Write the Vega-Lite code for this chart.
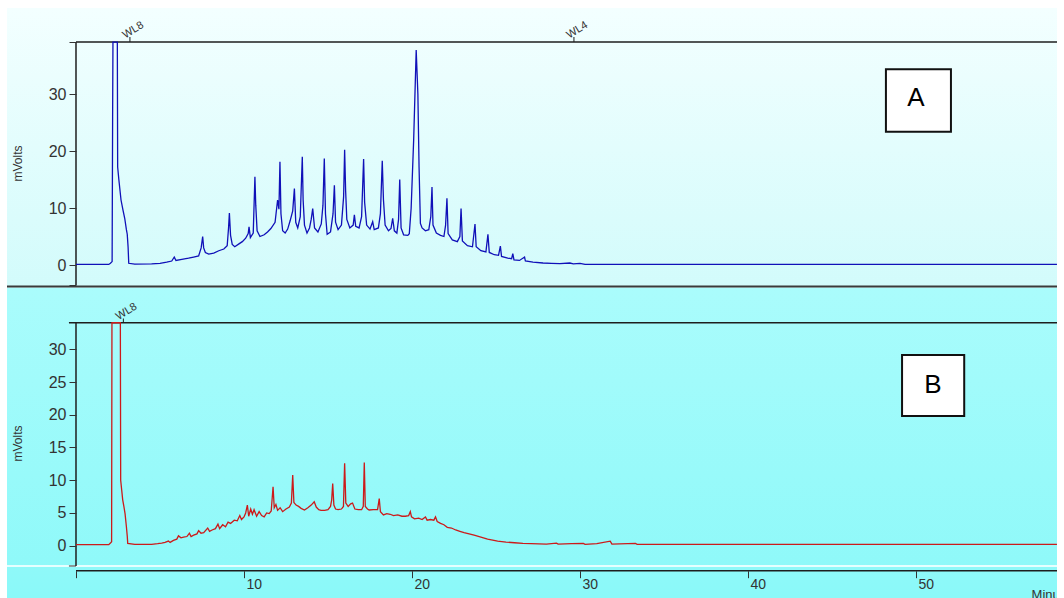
{
  "$schema": "https://vega.github.io/schema/vega-lite/v6.json",
  "background": "#ffffff",
  "padding": {"left": 6, "top": 8, "right": 8, "bottom": 0},
  "spacing": 0,
  "bounds": "flush",
  "config": {
    "view": {"stroke": null},
    "axis": {"grid": false, "domain": false, "zindex": 1, "labelFont": "Liberation Sans", "titleFont": "Liberation Sans", "labelColor": "#333333", "titleColor": "#333333", "tickColor": "#333333", "labelFontSize": 15, "titleFontSize": 12, "titleFontWeight": "normal", "labelOverlap": false, "labelBound": false, "labelFlush": false}
  },
  "datasets": {
    "A": [
      {"t":0,"v":0.1},{"t":1.95,"v":0.1},{"t":2.05,"v":0.3},{"t":2.15,"v":0.6},{"t":2.18,"v":26},{"t":2.2,"v":39.1},{"t":2.46,"v":39.1},{"t":2.48,"v":17.2},{"t":2.55,"v":15},{"t":2.68,"v":11.4},{"t":2.8,"v":9.6},{"t":2.9,"v":8.2},{"t":3.0,"v":6.2},{"t":3.05,"v":5.4},{"t":3.1,"v":3.2},{"t":3.14,"v":0.3},{"t":3.5,"v":0.15},{"t":4.5,"v":0.2},{"t":5.0,"v":0.3},{"t":5.4,"v":0.5},{"t":5.7,"v":0.7},{"t":5.85,"v":1.4},{"t":5.95,"v":0.8},{"t":6.3,"v":1.0},{"t":6.7,"v":1.2},{"t":7.0,"v":1.4},{"t":7.3,"v":1.6},{"t":7.45,"v":3.0},{"t":7.54,"v":5.0},{"t":7.6,"v":3.0},{"t":7.7,"v":2.2},{"t":7.9,"v":1.9},{"t":8.2,"v":2.1},{"t":8.5,"v":2.5},{"t":8.8,"v":2.8},{"t":9.0,"v":3.4},{"t":9.08,"v":6.5},{"t":9.13,"v":9.1},{"t":9.2,"v":5.2},{"t":9.3,"v":3.6},{"t":9.45,"v":3.2},{"t":9.7,"v":3.7},{"t":9.9,"v":4.1},{"t":10.1,"v":4.7},{"t":10.25,"v":5.5},{"t":10.3,"v":6.7},{"t":10.38,"v":4.8},{"t":10.55,"v":5.6},{"t":10.65,"v":15.5},{"t":10.7,"v":10.5},{"t":10.78,"v":6.0},{"t":10.95,"v":5.0},{"t":11.2,"v":5.3},{"t":11.4,"v":5.8},{"t":11.6,"v":6.4},{"t":11.85,"v":7.5},{"t":12.0,"v":11.4},{"t":12.08,"v":9.8},{"t":12.14,"v":18.1},{"t":12.2,"v":9.0},{"t":12.3,"v":6.0},{"t":12.45,"v":5.6},{"t":12.6,"v":6.3},{"t":12.75,"v":7.8},{"t":12.9,"v":9.5},{"t":13.0,"v":13.4},{"t":13.08,"v":7.5},{"t":13.2,"v":6.5},{"t":13.35,"v":8.5},{"t":13.47,"v":19.0},{"t":13.52,"v":11.4},{"t":13.6,"v":7.0},{"t":13.75,"v":5.6},{"t":13.9,"v":6.5},{"t":14.0,"v":8.0},{"t":14.09,"v":9.9},{"t":14.2,"v":6.5},{"t":14.4,"v":5.8},{"t":14.6,"v":7.2},{"t":14.7,"v":10.5},{"t":14.78,"v":18.7},{"t":14.85,"v":9.0},{"t":14.95,"v":5.4},{"t":15.15,"v":5.8},{"t":15.3,"v":9.0},{"t":15.38,"v":14.0},{"t":15.45,"v":7.5},{"t":15.6,"v":6.2},{"t":15.8,"v":7.0},{"t":15.93,"v":12.0},{"t":15.99,"v":20.2},{"t":16.05,"v":13.0},{"t":16.12,"v":8.0},{"t":16.3,"v":6.5},{"t":16.5,"v":7.0},{"t":16.57,"v":8.8},{"t":16.65,"v":6.8},{"t":16.85,"v":6.5},{"t":17.0,"v":8.5},{"t":17.12,"v":18.6},{"t":17.18,"v":11.0},{"t":17.3,"v":7.0},{"t":17.5,"v":6.3},{"t":17.66,"v":7.6},{"t":17.75,"v":6.2},{"t":18.0,"v":6.5},{"t":18.12,"v":9.0},{"t":18.23,"v":18.3},{"t":18.3,"v":11.5},{"t":18.4,"v":7.0},{"t":18.6,"v":6.0},{"t":18.75,"v":6.4},{"t":18.85,"v":8.2},{"t":18.95,"v":6.0},{"t":19.1,"v":5.6},{"t":19.2,"v":8.0},{"t":19.27,"v":15.0},{"t":19.35,"v":6.5},{"t":19.5,"v":5.3},{"t":19.75,"v":5.2},{"t":19.84,"v":5.5},{"t":19.95,"v":10.0},{"t":20.1,"v":22},{"t":20.25,"v":37.7},{"t":20.35,"v":30},{"t":20.42,"v":17.2},{"t":20.5,"v":7.3},{"t":20.6,"v":6.5},{"t":20.8,"v":6.0},{"t":21.0,"v":6.2},{"t":21.12,"v":8.5},{"t":21.19,"v":13.7},{"t":21.25,"v":7.0},{"t":21.45,"v":5.6},{"t":21.7,"v":5.2},{"t":21.9,"v":5.0},{"t":22.0,"v":7.0},{"t":22.08,"v":11.7},{"t":22.15,"v":5.5},{"t":22.4,"v":4.4},{"t":22.7,"v":4.1},{"t":22.85,"v":5.0},{"t":22.92,"v":9.9},{"t":23.0,"v":4.2},{"t":23.3,"v":3.4},{"t":23.6,"v":3.2},{"t":23.75,"v":7.2},{"t":23.82,"v":3.2},{"t":24.1,"v":2.5},{"t":24.4,"v":2.3},{"t":24.52,"v":5.4},{"t":24.6,"v":2.2},{"t":24.9,"v":1.8},{"t":25.15,"v":1.7},{"t":25.26,"v":3.3},{"t":25.33,"v":1.5},{"t":25.7,"v":1.2},{"t":25.93,"v":1.1},{"t":26.0,"v":2.0},{"t":26.07,"v":0.9},{"t":26.4,"v":0.8},{"t":26.7,"v":1.4},{"t":26.75,"v":0.7},{"t":27.2,"v":0.5},{"t":27.8,"v":0.35},{"t":28.3,"v":0.3},{"t":28.8,"v":0.25},{"t":29.4,"v":0.35},{"t":29.6,"v":0.2},{"t":30.0,"v":0.3},{"t":30.3,"v":0.1},{"t":35,"v":0.1},{"t":58.39,"v":0.1}
    ],
    "B": [
      {"t":0,"v":0.15},{"t":1.95,"v":0.15},{"t":2.05,"v":0.4},{"t":2.12,"v":0.6},{"t":2.14,"v":34.05},{"t":2.64,"v":34.05},{"t":2.66,"v":10.0},{"t":2.72,"v":8.5},{"t":2.78,"v":7.0},{"t":2.85,"v":6.0},{"t":2.92,"v":4.9},{"t":3.0,"v":2.9},{"t":3.05,"v":1.5},{"t":3.08,"v":0.35},{"t":3.5,"v":0.2},{"t":4.5,"v":0.2},{"t":4.86,"v":0.3},{"t":5.1,"v":0.4},{"t":5.3,"v":0.5},{"t":5.5,"v":0.7},{"t":5.6,"v":0.5},{"t":5.8,"v":0.8},{"t":6.0,"v":1.0},{"t":6.1,"v":1.5},{"t":6.25,"v":1.2},{"t":6.4,"v":1.3},{"t":6.6,"v":1.4},{"t":6.75,"v":1.9},{"t":6.85,"v":1.4},{"t":7.0,"v":1.6},{"t":7.2,"v":1.8},{"t":7.3,"v":2.3},{"t":7.44,"v":1.9},{"t":7.6,"v":2.0},{"t":7.84,"v":2.7},{"t":7.95,"v":2.2},{"t":8.1,"v":2.4},{"t":8.3,"v":2.6},{"t":8.45,"v":3.3},{"t":8.55,"v":2.6},{"t":8.73,"v":3.2},{"t":8.9,"v":2.9},{"t":9.05,"v":3.6},{"t":9.2,"v":3.4},{"t":9.42,"v":3.9},{"t":9.6,"v":3.8},{"t":9.75,"v":4.6},{"t":9.85,"v":4.0},{"t":10.0,"v":4.4},{"t":10.1,"v":5.0},{"t":10.2,"v":6.2},{"t":10.28,"v":4.5},{"t":10.4,"v":5.6},{"t":10.5,"v":4.8},{"t":10.6,"v":5.5},{"t":10.75,"v":4.5},{"t":10.9,"v":5.2},{"t":11.05,"v":4.6},{"t":11.2,"v":4.4},{"t":11.35,"v":5.0},{"t":11.5,"v":4.9},{"t":11.62,"v":5.3},{"t":11.73,"v":9.0},{"t":11.8,"v":5.8},{"t":11.9,"v":6.3},{"t":12.0,"v":5.4},{"t":12.15,"v":5.8},{"t":12.3,"v":5.2},{"t":12.5,"v":5.6},{"t":12.7,"v":5.9},{"t":12.82,"v":6.5},{"t":12.9,"v":10.8},{"t":12.97,"v":6.6},{"t":13.1,"v":6.2},{"t":13.25,"v":6.0},{"t":13.4,"v":5.7},{"t":13.6,"v":5.45},{"t":13.8,"v":5.8},{"t":14.0,"v":6.2},{"t":14.18,"v":6.7},{"t":14.3,"v":5.9},{"t":14.45,"v":5.5},{"t":14.58,"v":5.4},{"t":14.8,"v":5.4},{"t":15.0,"v":5.5},{"t":15.15,"v":6.0},{"t":15.22,"v":7.0},{"t":15.28,"v":9.5},{"t":15.35,"v":6.2},{"t":15.45,"v":5.6},{"t":15.6,"v":5.5},{"t":15.8,"v":5.6},{"t":15.92,"v":6.0},{"t":15.99,"v":12.6},{"t":16.06,"v":6.5},{"t":16.2,"v":6.0},{"t":16.35,"v":6.4},{"t":16.46,"v":6.5},{"t":16.6,"v":5.6},{"t":16.8,"v":5.5},{"t":17.0,"v":5.5},{"t":17.1,"v":6.0},{"t":17.16,"v":12.7},{"t":17.22,"v":6.0},{"t":17.35,"v":5.6},{"t":17.45,"v":5.45},{"t":17.7,"v":5.5},{"t":17.95,"v":5.5},{"t":18.05,"v":7.2},{"t":18.12,"v":5.2},{"t":18.3,"v":4.7},{"t":18.5,"v":4.9},{"t":18.7,"v":4.8},{"t":18.9,"v":4.6},{"t":19.15,"v":4.7},{"t":19.4,"v":4.5},{"t":19.6,"v":4.5},{"t":19.8,"v":4.6},{"t":19.9,"v":5.2},{"t":19.97,"v":4.4},{"t":20.15,"v":4.1},{"t":20.4,"v":4.2},{"t":20.6,"v":4.0},{"t":20.8,"v":4.4},{"t":20.9,"v":3.9},{"t":21.1,"v":4.0},{"t":21.3,"v":3.9},{"t":21.4,"v":4.4},{"t":21.5,"v":3.7},{"t":21.7,"v":3.4},{"t":21.9,"v":3.2},{"t":22.1,"v":2.8},{"t":22.35,"v":2.7},{"t":22.6,"v":2.4},{"t":22.85,"v":2.2},{"t":23.1,"v":2.0},{"t":23.4,"v":1.8},{"t":23.7,"v":1.6},{"t":24.1,"v":1.3},{"t":24.5,"v":1.0},{"t":25.1,"v":0.7},{"t":25.6,"v":0.55},{"t":26.1,"v":0.45},{"t":26.6,"v":0.35},{"t":27.1,"v":0.3},{"t":28.0,"v":0.25},{"t":28.6,"v":0.4},{"t":28.7,"v":0.25},{"t":29.5,"v":0.3},{"t":30.2,"v":0.35},{"t":30.3,"v":0.2},{"t":31.0,"v":0.3},{"t":31.8,"v":0.7},{"t":31.9,"v":0.25},{"t":33.3,"v":0.35},{"t":33.4,"v":0.2},{"t":58.39,"v":0.2}
    ]
  },
  "vconcat": [
    {
      "width": 1050,
      "height": 280,
      "layer": [
        {
          "data": {"values": [{"panel": "A"}]},
          "mark": {"type": "rect", "color": {"gradient": "linear", "x1": 0, "y1": 0, "x2": 0, "y2": 1, "stops": [{"offset": 0, "color": "#f3ffff"}, {"offset": 1, "color": "#d2fbfb"}]}},
          "encoding": {
            "x": {"datum": -4.107, "type": "quantitative", "scale": {"domain": [-4.107, 58.393], "nice": false, "zero": false}, "axis": null},
            "x2": {"datum": 58.393},
            "y": {"datum": -4.035, "type": "quantitative", "scale": {"domain": [-4.035, 45.09], "nice": false, "zero": false},
              "axis": {"orient": "left", "offset": -69, "zindex": 1, "labelOverlap": false, "labelFontSize": 16, "values": [-3.51, 0, 10, 20, 30, 39.12], "labelExpr": "datum.value % 10 === 0 ? datum.label : ''", "tickSize": 7, "labelPadding": 3, "title": "mVolts", "titleX": -59, "titleY": 155, "titleAngle": -90, "titleAlign": "center", "titleBaseline": "middle"}},
            "y2": {"datum": 45.09}
          }
        },
        {
          "data": {"values": [{"panel": "A"}]},
          "mark": {"type": "rule", "color": "#3a3a3a", "strokeWidth": 2},
          "encoding": {
            "x": {"datum": -4.107, "type": "quantitative", "axis": null},
            "x2": {"datum": 58.393},
            "y": {"datum": -3.77, "type": "quantitative"}
          }
        },
        {
          "data": {"values": [{"panel": "A"}]},
          "mark": {"type": "rule", "color": "#1e1e1e", "strokeWidth": 1.5},
          "encoding": {
            "x": {"datum": 0, "type": "quantitative", "axis": null},
            "x2": {"datum": 58.393},
            "y": {"datum": 39.12, "type": "quantitative"}
          }
        },
        {
          "data": {"values": [{"panel": "A"}]},
          "mark": {"type": "rule", "color": "#1e1e1e", "strokeWidth": 1.5},
          "encoding": {
            "x": {"datum": 0, "type": "quantitative", "axis": null},
            "y": {"datum": -3.51, "type": "quantitative"},
            "y2": {"datum": 39.12}
          }
        },
        {
          "data": {"values": [{"t": 3.21, "label": "WL8"}, {"t": 29.64, "label": "WL4"}]},
          "mark": {"type": "rule", "color": "#1e1e1e", "strokeWidth": 1},
          "encoding": {
            "x": {"field": "t", "type": "quantitative", "axis": null},
            "y": {"datum": 39.12, "type": "quantitative"},
            "y2": {"datum": 40.0}
          }
        },
        {
          "data": {"values": [{"t": 3.21, "label": "WL8"}, {"t": 29.64, "label": "WL4"}]},
          "mark": {"type": "text", "angle": -32, "align": "left", "baseline": "alphabetic", "dx": -5, "dy": -1, "font": "Liberation Sans", "fontSize": 11, "color": "#333333"},
          "encoding": {
            "x": {"field": "t", "type": "quantitative", "axis": null},
            "y": {"datum": 40.0, "type": "quantitative"},
            "text": {"field": "label"}
          }
        },
        {
          "data": {"name": "A"},
          "mark": {"type": "line", "color": "#1010b8", "strokeWidth": 1.3},
          "encoding": {
            "x": {"field": "t", "type": "quantitative", "axis": null},
            "y": {"field": "v", "type": "quantitative"}
          }
        },
        {
          "data": {"values": [{"label": "A", "t0": 48.21, "t1": 52.08, "v0": 23.39, "v1": 34.33, "tc": 50.0, "vc": 29.3}]},
          "mark": {"type": "rect", "fill": "#ffffff", "stroke": "#111111", "strokeWidth": 2},
          "encoding": {
            "x": {"field": "t0", "type": "quantitative", "axis": null},
            "x2": {"field": "t1"},
            "y": {"field": "v0", "type": "quantitative"},
            "y2": {"field": "v1"}
          }
        },
        {
          "data": {"values": [{"label": "A", "t0": 48.21, "t1": 52.08, "v0": 23.39, "v1": 34.33, "tc": 50.0, "vc": 29.3}]},
          "mark": {"type": "text", "align": "center", "baseline": "middle", "font": "Liberation Sans", "fontSize": 26, "color": "#000000"},
          "encoding": {
            "x": {"field": "tc", "type": "quantitative", "axis": null},
            "y": {"field": "vc", "type": "quantitative"},
            "text": {"field": "label"}
          }
        }
      ]
    },
    {
      "width": 1050,
      "height": 310,
      "layer": [
        {
          "data": {"values": [{"panel": "B"}]},
          "mark": {"type": "rect", "color": {"gradient": "linear", "x1": 0, "y1": 0, "x2": 0, "y2": 1, "stops": [{"offset": 0, "color": "#aafcfc"}, {"offset": 0.9, "color": "#8ff9f9"}, {"offset": 1, "color": "#8af9f9"}]}},
          "encoding": {
            "x": {"datum": -4.107, "type": "quantitative", "scale": {"domain": [-4.107, 58.393], "nice": false, "zero": false},
              "axis": {"orient": "bottom", "offset": -27.3, "zindex": 1, "labelOverlap": false, "values": [0, 10, 20, 30, 40, 50], "labelExpr": "datum.value === 0 ? '' : datum.label", "tickSize": 7, "labelPadding": 0, "labelAlign": "left", "labelBaseline": "top", "labelOffset": 2, "labelFontSize": 14, "title": null}},
            "x2": {"datum": 58.393},
            "y": {"datum": -7.99, "type": "quantitative", "scale": {"domain": [-7.99, 39.36], "nice": false, "zero": false},
              "axis": {"orient": "left", "offset": -69, "zindex": 1, "labelOverlap": false, "labelFontSize": 16, "values": [0, 5, 10, 15, 20, 25, 30], "tickSize": 7, "labelPadding": 3, "title": "mVolts", "titleX": -59, "titleY": 155, "titleAngle": -90, "titleAlign": "center", "titleBaseline": "middle"}},
            "y2": {"datum": 39.36}
          }
        },
        {
          "data": {"values": [{"panel": "B"}]},
          "mark": {"type": "rule", "color": "#e6ffff", "strokeWidth": 2},
          "encoding": {
            "x": {"datum": -4.107, "type": "quantitative"},
            "x2": {"datum": 58.393},
            "y": {"datum": -3.1, "type": "quantitative"}
          }
        },
        {
          "data": {"values": [{"panel": "B"}]},
          "mark": {"type": "rule", "color": "#1e1e1e", "strokeWidth": 1.5},
          "encoding": {
            "x": {"datum": 0, "type": "quantitative"},
            "x2": {"datum": 58.393},
            "y": {"datum": -3.82, "type": "quantitative"}
          }
        },
        {
          "data": {"values": [{"panel": "B"}]},
          "mark": {"type": "rule", "color": "#1e1e1e", "strokeWidth": 1.5},
          "encoding": {
            "x": {"datum": -0.42, "type": "quantitative"},
            "x2": {"datum": 58.393},
            "y": {"datum": 34.06, "type": "quantitative"}
          }
        },
        {
          "data": {"values": [{"panel": "B"}]},
          "mark": {"type": "rule", "color": "#333333", "strokeWidth": 1},
          "encoding": {
            "x": {"datum": -0.42, "type": "quantitative"},
            "x2": {"datum": 0},
            "y": {"datum": -3.1, "type": "quantitative"}
          }
        },
        {
          "data": {"values": [{"panel": "B"}]},
          "mark": {"type": "rule", "color": "#1e1e1e", "strokeWidth": 1.5},
          "encoding": {
            "x": {"datum": 0, "type": "quantitative"},
            "y": {"datum": -3.1, "type": "quantitative"},
            "y2": {"datum": 34.06}
          }
        },
        {
          "data": {"values": [{"t": 2.82, "label": "WL8"}]},
          "mark": {"type": "rule", "color": "#1e1e1e", "strokeWidth": 1},
          "encoding": {
            "x": {"field": "t", "type": "quantitative"},
            "y": {"datum": 34.06, "type": "quantitative"},
            "y2": {"datum": 34.7}
          }
        },
        {
          "data": {"values": [{"t": 2.82, "label": "WL8"}]},
          "mark": {"type": "text", "angle": -32, "align": "left", "baseline": "alphabetic", "dx": -5, "dy": -1, "font": "Liberation Sans", "fontSize": 11, "color": "#333333"},
          "encoding": {
            "x": {"field": "t", "type": "quantitative"},
            "y": {"datum": 34.7, "type": "quantitative"},
            "text": {"field": "label"}
          }
        },
        {
          "data": {"name": "B"},
          "mark": {"type": "line", "color": "#cc1a1a", "strokeWidth": 1.3},
          "encoding": {
            "x": {"field": "t", "type": "quantitative"},
            "y": {"field": "v", "type": "quantitative"}
          }
        },
        {
          "data": {"values": [{"label": "B", "t0": 49.17, "t1": 52.87, "v0": 19.81, "v1": 29.13, "tc": 51.0, "vc": 24.5}]},
          "mark": {"type": "rect", "fill": "#ffffff", "stroke": "#111111", "strokeWidth": 2},
          "encoding": {
            "x": {"field": "t0", "type": "quantitative"},
            "x2": {"field": "t1"},
            "y": {"field": "v0", "type": "quantitative"},
            "y2": {"field": "v1"}
          }
        },
        {
          "data": {"values": [{"label": "B", "t0": 49.17, "t1": 52.87, "v0": 19.81, "v1": 29.13, "tc": 51.0, "vc": 24.5}]},
          "mark": {"type": "text", "align": "center", "baseline": "middle", "font": "Liberation Sans", "fontSize": 26, "color": "#000000"},
          "encoding": {
            "x": {"field": "tc", "type": "quantitative"},
            "y": {"field": "vc", "type": "quantitative"},
            "text": {"field": "label"}
          }
        },
        {
          "data": {"values": [{"label": "Minutes", "t": 56.88, "v": -8.1}]},
          "mark": {"type": "text", "clip": true, "align": "left", "baseline": "alphabetic", "font": "Liberation Sans", "fontSize": 13, "color": "#333333"},
          "encoding": {
            "x": {"field": "t", "type": "quantitative"},
            "y": {"field": "v", "type": "quantitative"},
            "text": {"field": "label"}
          }
        }
      ]
    }
  ]
}
